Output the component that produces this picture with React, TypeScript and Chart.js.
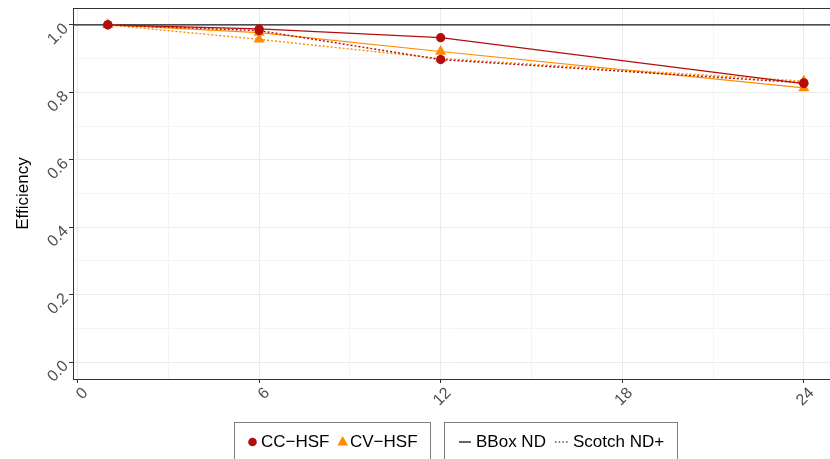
import React, { useEffect, useRef } from "react";
import { Chart, registerables } from "chart.js";

Chart.register(...registerables);

// ---- data ----
const X_VALUES = [1, 6, 12, 24];
const CC_BBOX = [1.0, 0.988, 0.962, 0.826];
const CC_SCOTCH = [1.0, 0.983, 0.897, 0.828];
const CV_BBOX = [1.0, 0.977, 0.921, 0.813];
const CV_SCOTCH = [1.0, 0.957, 0.9, 0.833];
const REF_LINE = 1.0;

const X_MIN = -0.15;
const X_MAX = 25.15;
const Y_MIN = -0.05;
const Y_MAX = 1.05;

const X_GRID = [0, 3, 6, 9, 12, 15, 18, 21, 24];
const X_LABELS = [0, 6, 12, 18, 24];
const Y_GRID = [0, 0.1, 0.2, 0.3, 0.4, 0.5, 0.6, 0.7, 0.8, 0.9, 1.0];
const Y_LABELS = ["0.0", "0.2", "0.4", "0.6", "0.8", "1.0"];

const RED = "#B30E0E";
const ORANGE = "#FF8C00";
const FONT = '"Liberation Sans", Arial, sans-serif';

const CANVAS_W = 845;
const CANVAS_H = 459;

const toPts = (arr: number[]) => X_VALUES.map((x, i) => ({ x, y: arr[i] }));

const isMajorX = (v: number) => X_LABELS.includes(v);
const isMajorY = (v: number) => Y_LABELS.some((l) => Math.abs(parseFloat(l) - v) < 1e-6);

const labelPlugin = {
  id: "customLabels",
  afterDraw(chart: any) {
    const { ctx, chartArea, scales } = chart;
    const x = scales.x;
    const y = scales.y;
    ctx.save();
    // panel border
    ctx.strokeStyle = "#333333";
    ctx.lineWidth = 1;
    ctx.strokeRect(
      Math.round(chartArea.left) + 0.5,
      Math.round(chartArea.top) + 0.5,
      Math.round(chartArea.right - chartArea.left),
      Math.round(chartArea.bottom - chartArea.top)
    );
    // tick labels
    ctx.font = `16px ${FONT}`;
    ctx.fillStyle = "#4D4D4D";
    ctx.textAlign = "right";
    ctx.textBaseline = "middle";
    X_LABELS.forEach((v) => {
      const px = x.getPixelForValue(v);
      ctx.save();
      ctx.translate(px + 8, chartArea.bottom + 11.5);
      ctx.rotate(-Math.PI / 4);
      ctx.fillText(String(v), 0, 0);
      ctx.restore();
    });
    Y_LABELS.forEach((l) => {
      const py = y.getPixelForValue(parseFloat(l));
      ctx.save();
      ctx.translate(chartArea.left - 7, py + 1.5);
      ctx.rotate(-Math.PI / 4);
      ctx.fillText(l, 0, 0);
      ctx.restore();
    });
    // y title
    ctx.font = `17px ${FONT}`;
    ctx.fillStyle = "#000000";
    ctx.textAlign = "center";
    ctx.save();
    ctx.translate(23.5, (chartArea.top + chartArea.bottom) / 2);
    ctx.rotate(-Math.PI / 2);
    ctx.fillText("Efficiency", 0, 0);
    ctx.restore();
    ctx.restore();
  },
};

export default function App() {
  const ref = useRef<HTMLCanvasElement | null>(null);

  useEffect(() => {
    if (!ref.current) return;
    const common = { borderWidth: 1.2, pointBorderWidth: 0, tension: 0 };
    const chart = new Chart(ref.current, {
      type: "line",
      data: {
        datasets: [
          {
            ...common,
            label: "CC-HSF BBox ND",
            data: toPts(CC_BBOX),
            borderColor: RED,
            backgroundColor: RED,
            pointBackgroundColor: RED,
            pointBorderColor: RED,
            pointStyle: "circle",
            pointRadius: 4.6,
          },
          {
            ...common,
            label: "CC-HSF Scotch ND+",
            data: toPts(CC_SCOTCH),
            borderColor: RED,
            backgroundColor: RED,
            pointBackgroundColor: RED,
            pointBorderColor: RED,
            borderDash: [2, 2],
            borderWidth: 1.4,
            pointStyle: "circle",
            pointRadius: 4.6,
          },
          {
            ...common,
            label: "CV-HSF BBox ND",
            data: toPts(CV_BBOX),
            borderColor: ORANGE,
            backgroundColor: ORANGE,
            pointBackgroundColor: ORANGE,
            pointBorderColor: ORANGE,
            pointStyle: "triangle",
            pointRadius: 6.4,
          },
          {
            ...common,
            label: "CV-HSF Scotch ND+",
            data: toPts(CV_SCOTCH),
            borderColor: ORANGE,
            backgroundColor: ORANGE,
            pointBackgroundColor: ORANGE,
            pointBorderColor: ORANGE,
            borderDash: [2, 2],
            borderWidth: 1.4,
            pointStyle: "triangle",
            pointRadius: 6.4,
          },
          {
            label: "ref",
            data: [
              { x: X_MIN, y: REF_LINE },
              { x: X_MAX, y: REF_LINE },
            ],
            borderColor: "#1A1A1A",
            borderWidth: 1.4,
            pointRadius: 0,
          },
        ],
      },
      options: {
        responsive: false,
        animation: false,
        devicePixelRatio: 1,
        layout: { padding: { left: 0, top: 8, right: CANVAS_W - 839, bottom: 0 } },
        plugins: { legend: { display: false }, tooltip: { enabled: false }, title: { display: false } },
        scales: {
          x: {
            type: "linear",
            min: X_MIN,
            max: X_MAX,
            afterBuildTicks: (s: any) => {
              s.ticks = X_GRID.map((v) => ({ value: v }));
            },
            afterFit: (s: any) => {
              s.height = 80;
            },
            ticks: { display: false },
            border: { display: false },
            grid: {
              color: (c: any) => (isMajorX(c.tick?.value) ? "#EBEBEB" : "#F4F4F4"),
              lineWidth: 1,
              tickLength: 4,
              tickColor: (c: any) => (isMajorX(c.tick?.value) ? "#333333" : "rgba(0,0,0,0)"),
              tickWidth: 1,
            },
          },
          y: {
            type: "linear",
            min: Y_MIN,
            max: Y_MAX,
            afterBuildTicks: (s: any) => {
              s.ticks = Y_GRID.map((v) => ({ value: v }));
            },
            afterFit: (s: any) => {
              s.width = 73;
            },
            ticks: { display: false },
            border: { display: false },
            grid: {
              color: (c: any) => (isMajorY(c.tick?.value) ? "#EBEBEB" : "#F4F4F4"),
              lineWidth: 1,
              tickLength: 4,
              tickColor: (c: any) => (isMajorY(c.tick?.value) ? "#333333" : "rgba(0,0,0,0)"),
              tickWidth: 1,
            },
          },
        },
      },
      plugins: [labelPlugin],
    });
    return () => chart.destroy();
  }, []);

  const text: React.CSSProperties = {
    position: "absolute",
    top: 431,
    fontFamily: FONT,
    fontSize: 17,
    lineHeight: "22px",
    color: "#000",
    whiteSpace: "nowrap",
  };
  const box: React.CSSProperties = {
    position: "absolute",
    top: 422,
    height: 60,
    border: "1px solid #7F7F7F",
    boxSizing: "border-box",
  };

  return (
    <div
      style={{
        position: "fixed",
        left: 0,
        top: 0,
        width: 830,
        height: 459,
        overflow: "hidden",
        background: "#fff",
      }}
    >
      <canvas ref={ref} width={CANVAS_W} height={CANVAS_H} style={{ position: "absolute", left: 0, top: 0 }} />
      <div style={{ ...box, left: 234, width: 197 }} />
      <div style={{ ...box, left: 444, width: 234 }} />
      <svg style={{ position: "absolute", left: 0, top: 420 }} width={830} height={40}>
        <circle cx={252.5} cy={22} r={4.3} fill={RED} />
        <polygon points="342.7,16 348,25.5 337.4,25.5" fill={ORANGE} />
        <line x1={459} x2={471} y1={22} y2={22} stroke="#000" strokeWidth={1.2} />
        <line x1={555} x2={568} y1={22} y2={22} stroke="#000" strokeWidth={1.2} strokeDasharray="1.5,2.2" />
      </svg>
      <span style={{ ...text, left: 261 }}>CC−HSF</span>
      <span style={{ ...text, left: 350 }}>CV−HSF</span>
      <span style={{ ...text, left: 476 }}>BBox ND</span>
      <span style={{ ...text, left: 573 }}>Scotch ND+</span>
    </div>
  );
}
